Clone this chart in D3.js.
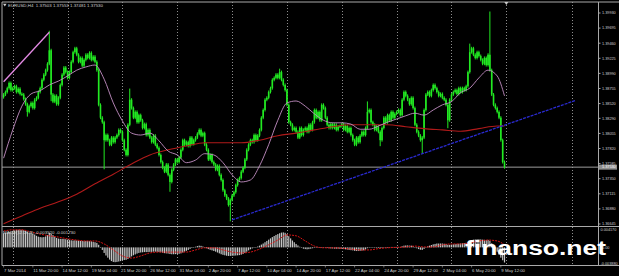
<!DOCTYPE html>
<html>
<head>
<meta charset="utf-8">
<script src="https://cdn.jsdelivr.net/npm/d3@7"></script>
<style>
  html, body { margin: 0; padding: 0; background: #000; }
  svg { display: block; }
  text { font-family: "Liberation Sans", Arial, sans-serif; }
</style>
</head>
<body>
<svg id="chart" width="619" height="276"></svg>
<script>
// EURUSD H4, 7 Mar 2014 04:00 .. 9 May 2014 20:00 (bar index 0..274)
const firstOpen = 1.3862;
const closes = [
  1.3866,1.3870,1.3876,1.3884,1.3873,1.3876,1.3879,1.3870,1.3875,1.3867,
  1.3866,1.3859,1.3851,1.3839,1.3848,1.3853,1.3845,1.3858,1.3861,1.3870,
  1.3876,1.3889,1.3897,1.3904,1.3914,1.3935,1.3866,1.3855,1.3864,1.3851,
  1.3861,1.3881,1.3897,1.3908,1.3901,1.3892,1.3901,1.3917,1.3932,1.3938,
  1.3928,1.3917,1.3923,1.3911,1.3920,1.3928,1.3923,1.3931,1.3920,1.3925,
  1.3917,1.3904,1.3850,1.3830,1.3823,1.3795,1.3803,1.3795,1.3788,1.3799,
  1.3792,1.3799,1.3803,1.3811,1.3808,1.3795,1.3780,1.3772,1.3819,1.3858,
  1.3845,1.3830,1.3839,1.3823,1.3834,1.3826,1.3814,1.3820,1.3803,1.3811,
  1.3799,1.3792,1.3802,1.3788,1.3783,1.3772,1.3761,1.3752,1.3746,1.3757,
  1.3741,1.3730,1.3749,1.3757,1.3765,1.3761,1.3768,1.3780,1.3795,1.3788,
  1.3792,1.3786,1.3799,1.3789,1.3795,1.3799,1.3805,1.3811,1.3802,1.3806,
  1.3788,1.3780,1.3765,1.3772,1.3761,1.3757,1.3749,1.3755,1.3741,1.3733,
  1.3717,1.3709,1.3704,1.3694,1.3702,1.3709,1.3714,1.3725,1.3733,1.3736,
  1.3746,1.3752,1.3765,1.3780,1.3788,1.3795,1.3792,1.3803,1.3795,1.3802,
  1.3811,1.3830,1.3842,1.3858,1.3861,1.3870,1.3876,1.3889,1.3892,1.3897,
  1.3892,1.3901,1.3889,1.3881,1.3873,1.3850,1.3823,1.3819,1.3811,1.3814,
  1.3808,1.3799,1.3814,1.3803,1.3811,1.3814,1.3808,1.3819,1.3811,1.3823,
  1.3842,1.3830,1.3839,1.3826,1.3850,1.3845,1.3830,1.3819,1.3814,1.3820,
  1.3814,1.3819,1.3811,1.3816,1.3817,1.3820,1.3811,1.3817,1.3808,1.3814,
  1.3803,1.3795,1.3788,1.3799,1.3792,1.3802,1.3808,1.3803,1.3814,1.3839,
  1.3842,1.3823,1.3819,1.3811,1.3816,1.3808,1.3795,1.3814,1.3830,1.3823,
  1.3834,1.3826,1.3839,1.3830,1.3836,1.3839,1.3842,1.3834,1.3858,1.3870,
  1.3864,1.3858,1.3851,1.3861,1.3845,1.3819,1.3808,1.3802,1.3795,1.3799,
  1.3842,1.3866,1.3870,1.3864,1.3873,1.3881,1.3876,1.3870,1.3864,1.3867,
  1.3861,1.3858,1.3850,1.3826,1.3858,1.3866,1.3870,1.3873,1.3867,1.3876,
  1.3870,1.3876,1.3873,1.3879,1.3901,1.3932,1.3938,1.3928,1.3923,1.3932,
  1.3926,1.3920,1.3914,1.3923,1.3912,1.3928,1.3904,1.3866,1.3850,1.3845,
  1.3839,1.3830,1.3795,1.3761,1.3753
];

// long wicks that stick out of the bodies
const highBars = [25, 69, 151, 199, 255, 266];
const highPrices = [1.3963, 1.3873, 1.3904, 1.3853, 1.3943, 1.3993];
const lowBars = [13, 26, 55, 91, 124, 206, 229, 243];
const lowPrices = [1.3834, 1.3858, 1.3752, 1.3717, 1.3671, 1.3788, 1.3777, 1.3816];

// moving averages, read every 5 / 10 bars
const maFastBars = d3.range(0, 271, 5).concat([274]);
const maFast = [
  1.3767,1.3811,1.3848,1.3867,1.3872,1.3881,1.3887,1.3895,1.3904,1.3909,
  1.3912,1.3890,1.3853,1.3825,1.3806,1.3803,1.3806,1.3794,1.3778,1.3772,
  1.3760,1.3764,1.3774,1.3772,1.3760,1.3741,1.3730,1.3733,1.3755,1.3788,
  1.3826,1.3853,1.3856,1.3848,1.3836,1.3826,1.3822,1.3822,1.3820,1.3812,
  1.3812,1.3817,1.3823,1.3828,1.3833,1.3837,1.3834,1.3842,1.3850,1.3855,
  1.3869,1.3876,1.3892,1.3904,1.3895,1.3864
];
const maSlowBars = d3.range(0, 271, 10).concat([274]);
const maSlow = [
  1.3665,1.3677,1.3689,1.3699,1.3711,1.3727,1.3742,1.3758,1.3772,1.3780,
  1.3786,1.3791,1.3791,1.3791,1.3795,1.3802,1.3806,1.3811,1.3816,1.3819,
  1.3819,1.3819,1.3816,1.3813,1.3811,1.3809,1.3813,1.3817,1.3817
];

// drawn trend lines
const pinkBars = [0, 25], pinkPrices = [1.3886, 1.3963];
const blueBars = [125, 313], bluePrices = [1.3671, 1.3857];

const bidPrice = 1.37530;

// MACD(12,26,9) main (histogram) per bar, signal every 5 bars
const macd = [
  0.00330,0.00335,0.00345,0.00360,0.00370,0.00385,0.00395,0.00405,0.00410,0.00412,
  0.00410,0.00400,0.00385,0.00360,0.00345,0.00335,0.00320,0.00300,0.00270,0.00250,
  0.00240,0.00235,0.00240,0.00255,0.00285,0.00340,0.00320,0.00285,0.00250,0.00220,
  0.00205,0.00200,0.00200,0.00195,0.00190,0.00180,0.00170,0.00165,0.00160,0.00165,
  0.00160,0.00155,0.00150,0.00150,0.00145,0.00150,0.00150,0.00145,0.00140,0.00130,
  0.00120,0.00105,0.00060,0.00000,-0.00060,-0.00130,-0.00190,-0.00240,-0.00285,-0.00320,
  -0.00340,-0.00345,-0.00340,-0.00330,-0.00320,-0.00300,-0.00295,-0.00290,-0.00270,-0.00240,
  -0.00210,-0.00185,-0.00165,-0.00145,-0.00130,-0.00120,-0.00115,-0.00110,-0.00110,-0.00110,
  -0.00105,-0.00105,-0.00100,-0.00100,-0.00105,-0.00110,-0.00115,-0.00125,-0.00135,-0.00140,
  -0.00145,-0.00155,-0.00160,-0.00160,-0.00158,-0.00155,-0.00150,-0.00140,-0.00120,-0.00100,
  -0.00080,-0.00060,-0.00035,-0.00015,0.00000,0.00015,0.00030,0.00040,0.00035,0.00020,
  0.00000,-0.00020,-0.00040,-0.00055,-0.00070,-0.00085,-0.00100,-0.00120,-0.00140,-0.00160,
  -0.00175,-0.00185,-0.00195,-0.00200,-0.00200,-0.00198,-0.00195,-0.00190,-0.00185,-0.00180,
  -0.00170,-0.00155,-0.00130,-0.00100,-0.00070,-0.00045,-0.00025,-0.00010,0.00005,0.00020,
  0.00040,0.00065,0.00090,0.00120,0.00150,0.00180,0.00210,0.00240,0.00265,0.00290,
  0.00310,0.00330,0.00345,0.00350,0.00340,0.00310,0.00260,0.00210,0.00160,0.00120,
  0.00080,0.00045,0.00015,-0.00010,-0.00030,-0.00040,-0.00045,-0.00040,-0.00030,-0.00020,
  -0.00010,-0.00005,0.00000,-0.00005,0.00005,0.00000,-0.00010,-0.00015,-0.00020,-0.00025,
  -0.00025,-0.00030,-0.00030,-0.00030,-0.00035,-0.00035,-0.00040,-0.00045,-0.00050,-0.00060,
  -0.00065,-0.00070,-0.00080,-0.00085,-0.00085,-0.00080,-0.00075,-0.00070,-0.00050,-0.00020,
  -0.00005,0.00000,0.00000,-0.00005,-0.00010,-0.00015,-0.00020,-0.00015,-0.00005,0.00000,
  0.00005,0.00005,0.00010,0.00010,0.00010,0.00010,0.00010,0.00010,0.00025,0.00040,
  0.00045,0.00045,0.00040,0.00040,0.00030,0.00005,-0.00020,-0.00040,-0.00055,-0.00060,
  -0.00035,-0.00005,0.00025,0.00040,0.00055,0.00070,0.00080,0.00090,0.00090,0.00090,
  0.00090,0.00085,0.00080,0.00060,0.00060,0.00065,0.00070,0.00075,0.00080,0.00085,
  0.00090,0.00095,0.00100,0.00105,0.00120,0.00145,0.00165,0.00180,0.00185,0.00190,
  0.00190,0.00185,0.00180,0.00175,0.00170,0.00175,0.00150,0.00095,0.00035,-0.00030,
  -0.00100,-0.00170,-0.00240,-0.00300,-0.00352
];
const signalBars = d3.range(0, 271, 5).concat([274]);
const signal = [
  0.0038,0.0041,0.0041,0.0036,0.0031,0.0027,0.0024,0.0020,0.0017,0.0015,
  0.0015,0.0008,-0.0006,-0.0020,-0.0025,-0.0020,-0.0013,-0.0011,-0.0011,-0.0011,
  -0.0011,-0.0006,-0.0001,-0.0001,-0.0006,-0.0011,-0.0013,-0.0011,-0.0004,0.0006,
  0.0017,0.0029,0.0027,0.0015,0.0003,-0.0001,-0.0001,-0.0002,-0.0004,-0.0006,
  -0.0006,-0.0003,-0.0001,0.0000,0.0001,0.0003,0.0001,0.0001,0.0006,0.0008,
  0.0008,0.0010,0.0015,0.0017,0.0015,0.0006
];

// axes
const priceTicks = ["1.39930","1.39695","1.39460","1.39225","1.38990","1.38755","1.38520",
  "1.38290","1.38055","1.37820","1.37585","1.37350","1.37115","1.36880","1.36645"];
const macdTicks = ["0.004170", "-0.003880"];
const timeLabels = ["7 Mar 2014","11 Mar 20:00","14 Mar 12:00","19 Mar 04:00","21 Mar 20:00",
  "26 Mar 12:00","31 Mar 04:00","2 Apr 20:00","7 Apr 12:00","10 Apr 04:00","14 Apr 20:00",
  "17 Apr 12:00","22 Apr 04:00","24 Apr 20:00","29 Apr 12:00","2 May 04:00","6 May 20:00",
  "9 May 12:00"];
const timeLabelBars = d3.range(0, 273, 16);
const gridBars = [5, 35, 65, 95, 125, 155, 185, 215, 245, 275, 311];

const titleText = "EURUSD,H4  1.37503 1.37553 1.37481 1.37530";
const macdTitle = "MACD(12,26,9) -0.003520 -0.001730";

// ---- layout
const plotL = 2, plotR = 598.5, mainT = 2, mainB = 226.5, macdB = 265.5;
const frameColor = "#a9a9a9", textColor = "#cfcfcf";
const axisFont = 3.8;

const x = d3.scaleLinear().domain([0, 274]).range([3.6, 504.5]);
const y = d3.scaleLinear().domain([+priceTicks[14], +priceTicks[0]]).range([224, 13]);
const yM = d3.scaleLinear().domain([+macdTicks[1], +macdTicks[0]]).range([264, 229.5]);

const svg = d3.select("#chart");
svg.append("rect").attr("width", 619).attr("height", 276).attr("fill", "#000");

const defs = svg.append("defs");
defs.append("clipPath").attr("id", "mainClip").append("rect")
  .attr("x", plotL).attr("y", mainT).attr("width", plotR - plotL).attr("height", mainB - mainT);
defs.append("clipPath").attr("id", "macdClip").append("rect")
  .attr("x", plotL).attr("y", mainB).attr("width", plotR - plotL).attr("height", macdB - mainB);

// vertical dotted grid (week starts)
svg.append("g").selectAll("line").data(gridBars).join("line")
  .attr("x1", d => Math.round(x(d)) + 0.5).attr("x2", d => Math.round(x(d)) + 0.5)
  .attr("y1", mainT).attr("y2", macdB)
  .attr("stroke", "#8e8e8e").attr("stroke-dasharray", "1 2");

const main = svg.append("g").attr("clip-path", "url(#mainClip)");

// bid line
main.append("line")
  .attr("x1", plotL).attr("x2", plotR)
  .attr("y1", y(bidPrice)).attr("y2", y(bidPrice))
  .attr("stroke", "#9c9c9c");

// candles
const bars = closes.map((c, i) => {
  const o = i === 0 ? firstOpen : closes[i - 1];
  let hi = Math.max(o, c), lo = Math.min(o, c);
  const hk = highBars.indexOf(i), lk = lowBars.indexOf(i);
  const bodyHi = hi, bodyLo = lo;
  if (hk >= 0) hi = Math.max(hi, highPrices[hk]);
  if (lk >= 0) lo = Math.min(lo, lowPrices[lk]);
  return { i, bodyHi, bodyLo, hi, lo };
});
const green = "#22ea22";
main.append("g").selectAll("line").data(bars).join("line")
  .attr("x1", d => x(d.i)).attr("x2", d => x(d.i))
  .attr("y1", d => y(d.hi) - 1.5).attr("y2", d => y(d.lo) + 1.5)
  .attr("stroke", green).attr("stroke-width", 1);
main.append("g").selectAll("rect").data(bars).join("rect")
  .attr("x", d => x(d.i) - 0.8).attr("width", 1.6)
  .attr("y", d => y(d.bodyHi))
  .attr("height", d => Math.max(1, y(d.bodyLo) - y(d.bodyHi)))
  .attr("fill", green);

// moving averages
const priceLine = d3.line().x(d => x(d[0])).y(d => y(d[1])).curve(d3.curveMonotoneX);
main.append("path")
  .attr("d", priceLine(d3.zip(maSlowBars, maSlow)))
  .attr("fill", "none").attr("stroke", "#b01a1a").attr("stroke-width", 1.1);
main.append("path")
  .attr("d", priceLine(d3.zip(maFastBars, maFast)))
  .attr("fill", "none").attr("stroke", "#c48ec4").attr("stroke-width", 0.9);

// trend lines
const straight = d3.line().x(d => x(d[0])).y(d => y(d[1]));
main.append("path")
  .attr("d", straight(d3.zip(pinkBars, pinkPrices)))
  .attr("stroke", "#e48ae4").attr("stroke-width", 1.3).attr("fill", "none");
main.append("path")
  .attr("d", straight(d3.zip(blueBars, bluePrices)))
  .attr("stroke", "#2a2ad0").attr("stroke-width", 1.3)
  .attr("stroke-dasharray", "3 1").attr("fill", "none");

// MACD window
const sub = svg.append("g").attr("clip-path", "url(#macdClip)");
sub.append("g").selectAll("rect").data(macd).join("rect")
  .attr("x", (d, i) => x(i) - 0.6).attr("width", 1.2)
  .attr("y", d => Math.min(yM(d), yM(0)))
  .attr("height", d => Math.max(0.5, Math.abs(yM(d) - yM(0))))
  .attr("fill", "#c4c4c4");
sub.append("path")
  .attr("d", d3.line().x(d => x(d[0])).y(d => yM(d[1])).curve(d3.curveMonotoneX)(d3.zip(signalBars, signal)))
  .attr("fill", "none").attr("stroke", "#d41414").attr("stroke-width", 1)
  .attr("stroke-dasharray", "2 1");

// frame
const frame = svg.append("g").attr("stroke", frameColor).attr("stroke-width", 1);
frame.append("line").attr("x1", plotL).attr("x2", 619).attr("y1", mainT).attr("y2", mainT);
frame.append("line").attr("x1", plotL).attr("x2", 619).attr("y1", mainB).attr("y2", mainB);
frame.append("line").attr("x1", plotL).attr("x2", 619).attr("y1", macdB).attr("y2", macdB);
frame.append("line").attr("x1", plotL).attr("x2", plotL).attr("y1", mainT).attr("y2", macdB);
frame.append("line").attr("x1", plotR).attr("x2", plotR).attr("y1", mainT).attr("y2", macdB);

// chart shift marker
svg.append("path")
  .attr("d", `M${x(275) - 2},${mainT} L${x(275) + 2},${mainT} L${x(275)},${mainT + 3} Z`)
  .attr("fill", "#c8c8c8");

// price axis
const axisG = svg.append("g").attr("font-size", axisFont).attr("fill", textColor);
axisG.selectAll("line").data(priceTicks).join("line")
  .attr("x1", plotR).attr("x2", plotR + 2)
  .attr("y1", d => y(+d)).attr("y2", d => y(+d))
  .attr("stroke", frameColor);
axisG.selectAll("text.p").data(priceTicks).join("text").attr("class", "p")
  .attr("x", 602).attr("y", d => y(+d)).attr("dy", "0.35em").text(d => d);
axisG.selectAll("text.m").data(macdTicks).join("text").attr("class", "m")
  .attr("x", 600.5).attr("y", d => yM(+d)).attr("dy", "0.35em").text(d => d);
axisG.append("text").attr("x", 602).attr("y", yM(0)).attr("dy", "0.35em").text("0.00");

// current price box
svg.append("rect")
  .attr("x", plotR + 0.5).attr("y", y(bidPrice) - 2.5).attr("width", 18).attr("height", 5)
  .attr("fill", "#8f8f8f");
svg.append("text")
  .attr("x", 602).attr("y", y(bidPrice)).attr("dy", "0.35em")
  .attr("font-size", axisFont).attr("fill", "#fff").text(bidPrice.toFixed(5));

// time axis
const timeG = svg.append("g");
timeG.selectAll("line").data(timeLabelBars).join("line")
  .attr("x1", d => x(d)).attr("x2", d => x(d))
  .attr("y1", macdB).attr("y2", macdB + 2)
  .attr("stroke", frameColor).attr("stroke-width", 0.6);
timeG.selectAll("text").data(timeLabels).join("text")
  .attr("x", (d, i) => x(timeLabelBars[i]) + 0.5)
  .attr("y", 270.5).attr("dy", "0.35em")
  .attr("font-size", 4.3).attr("fill", textColor)
  .text(d => d);

// titles
svg.append("path").attr("d", "M3,3.8 L6.6,3.8 L4.8,6.4 Z").attr("fill", textColor);
svg.append("text").attr("x", 8).attr("y", 5.2).attr("dy", "0.35em")
  .attr("font-size", 4.4).attr("fill", textColor)
  .attr("xml:space", "preserve").text(titleText);
svg.append("text").attr("x", 3).attr("y", 232).attr("dy", "0.35em")
  .attr("font-size", 4.4).attr("fill", textColor).text(macdTitle);

// watermark
svg.append("text")
  .attr("x", 465).attr("y", 254.5)
  .attr("font-family", "'DejaVu Sans', sans-serif")
  .attr("font-weight", "bold").attr("font-size", 20)
  .attr("textLength", 141).attr("lengthAdjust", "spacingAndGlyphs")
  .attr("fill", "#fff")
  .text("finanso.net");
</script>
</body>
</html>
